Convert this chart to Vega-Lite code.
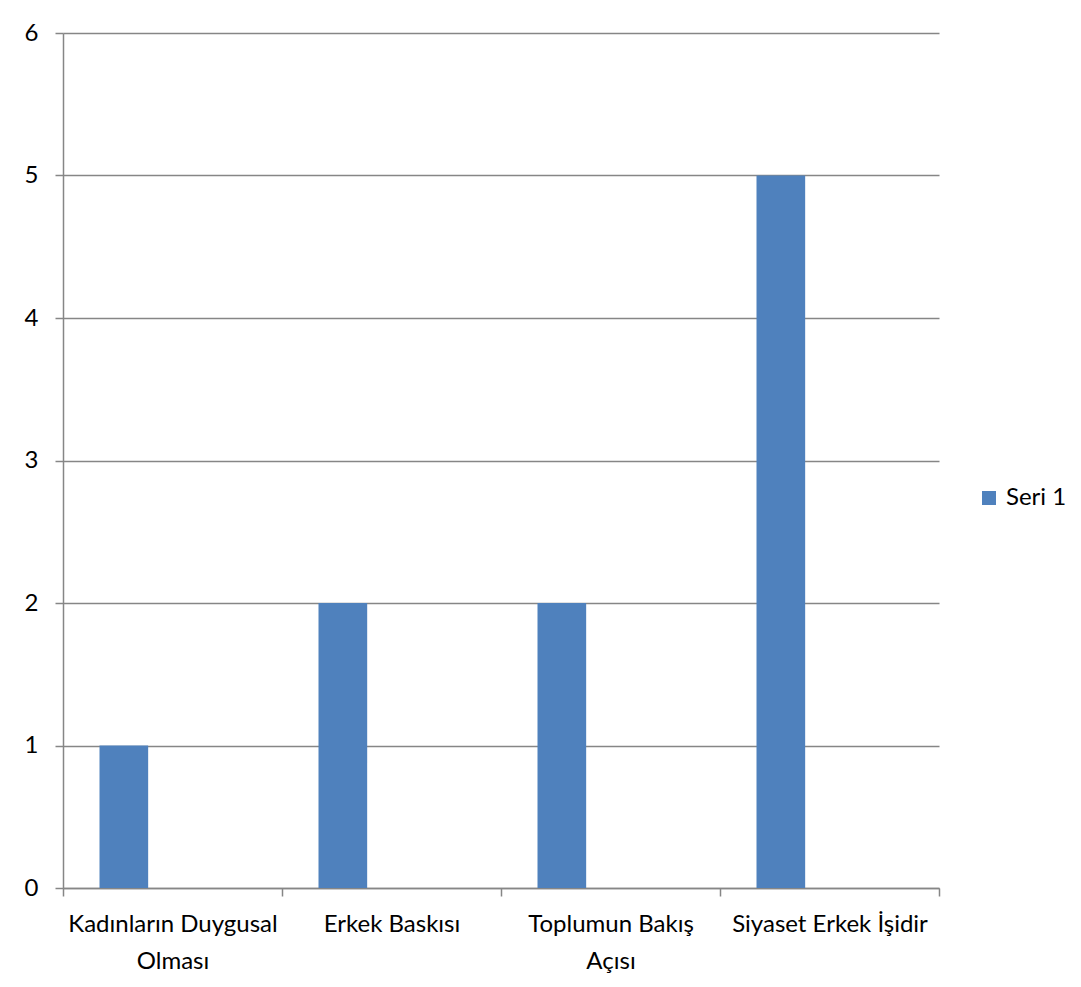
{
  "$schema": "https://vega.github.io/schema/vega-lite/v6.json",
  "width": 876,
  "height": 855,
  "autosize": {"type": "none"},
  "padding": {"left": 63, "top": 33, "right": 142, "bottom": 99},
  "background": "white",
  "config": {
    "font": "Lato",
    "view": {"stroke": null},
    "axis": {"labelFont": "Lato", "labelFontSize": 24, "labelColor": "black", "domainColor": "#868686", "tickColor": "#868686", "gridColor": "#868686", "tickSize": 8, "domainWidth": 1.5, "tickWidth": 1.5, "gridWidth": 1.5},
    "legend": {"labelFont": "Lato", "labelFontSize": 24, "labelColor": "black"}
  },
  "data": {
    "values": [
      {"kategori": "Kadınların Duygusal Olması", "seri": "Seri 1", "deger": 1},
      {"kategori": "Erkek Baskısı", "seri": "Seri 1", "deger": 2},
      {"kategori": "Toplumun Bakış Açısı", "seri": "Seri 1", "deger": 2},
      {"kategori": "Siyaset Erkek İşidir", "seri": "Seri 1", "deger": 5}
    ]
  },
  "mark": {"type": "bar", "color": "#4F81BD"},
  "encoding": {
    "x": {
      "field": "kategori",
      "type": "nominal",
      "sort": null,
      "scale": {"paddingInner": 0, "paddingOuter": 0},
      "axis": {
        "title": null,
        "labelAngle": 0,
        "tickBand": "extent",
        "labelPadding": 16,
        "labelFontSize": 24,
        "labelLineHeight": 37,
        "labelBaseline": "top",
        "labelLimit": 0,
        "labelExpr": "datum.value == 'Kadınların Duygusal Olması' ? ['Kadınların Duygusal', 'Olması'] : datum.value == 'Toplumun Bakış Açısı' ? ['Toplumun Bakış', 'Açısı'] : datum.value"
      }
    },
    "xOffset": {
      "field": "seri",
      "type": "nominal",
      "scale": {"domain": ["Seri 1", "Seri 2", "Seri 3"], "paddingInner": 0, "paddingOuter": 0.75}
    },
    "y": {
      "field": "deger",
      "type": "quantitative",
      "scale": {"domain": [0, 6]},
      "axis": {"title": null, "tickCount": 6, "labelPadding": 17, "labelFontSize": 24, "grid": true}
    },
    "color": {
      "field": "seri",
      "type": "nominal",
      "scale": {"domain": ["Seri 1"], "range": ["#4F81BD"]},
      "legend": {"title": null, "orient": "none", "legendX": 914, "legendY": 453, "labelFontSize": 24, "symbolType": "square", "symbolSize": 196, "symbolStrokeWidth": 0, "labelOffset": 5}
    }
  }
}
